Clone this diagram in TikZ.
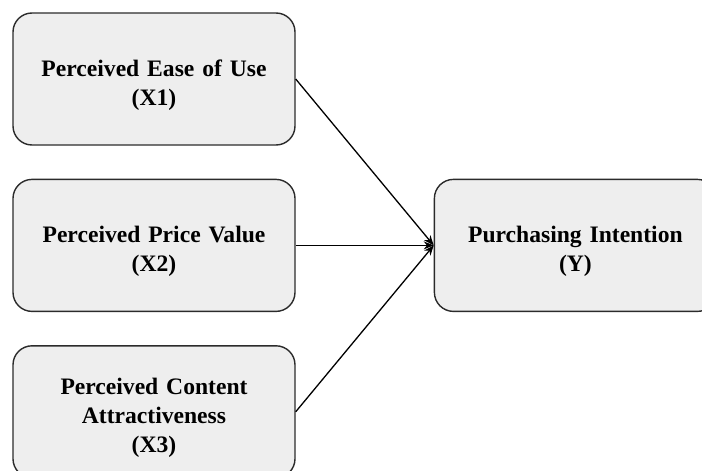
\documentclass[tikz,border=0pt]{standalone}
\usepackage{fontspec}
\setmainfont{Liberation Serif}
\usetikzlibrary{arrows.meta, positioning}
\definecolor{boxgray}{HTML}{EEEEEE}
\definecolor{edgegray}{HTML}{2B2B2B}

\begin{document}
\begin{tikzpicture}[
  x=1pt, y=1pt,
  var/.style={rectangle, draw=edgegray, fill=boxgray, line width=1.4pt, rounded corners=19pt, minimum width=282pt, minimum height=132pt, text width=262pt, align=center, font=\fontsize{23.6}{29}\selectfont\bfseries, execute at begin node={\rule{0pt}{29pt}}},
  arrow/.style={-{Stealth[length=10pt, width=8pt]}, line width=1.3pt, draw=black}
]
  \useasboundingbox (0,0) rectangle (702,-471);
  \clip (0,0) rectangle (702,-471);

  % Independent variables
  \node[var] (x1) at (154,-79) {Perceived Ease of Use\\(X1)};
  \node[var, below=33pt of x1] (x2) {Perceived Price Value\\(X2)};
  \node[var, below=33pt of x2] (x3) {Perceived Content\\Attractiveness\\(X3)};

  % Dependent variable
  \node[var, right=138pt of x2] (y) {Purchasing Intention\\(Y)};

  % Arrows
  \draw[arrow] (x1.east) -- (y.west);
  \draw[arrow] (x2.east) -- (y.west);
  \draw[arrow] (x3.east) -- (y.west);
\end{tikzpicture}
\end{document}
